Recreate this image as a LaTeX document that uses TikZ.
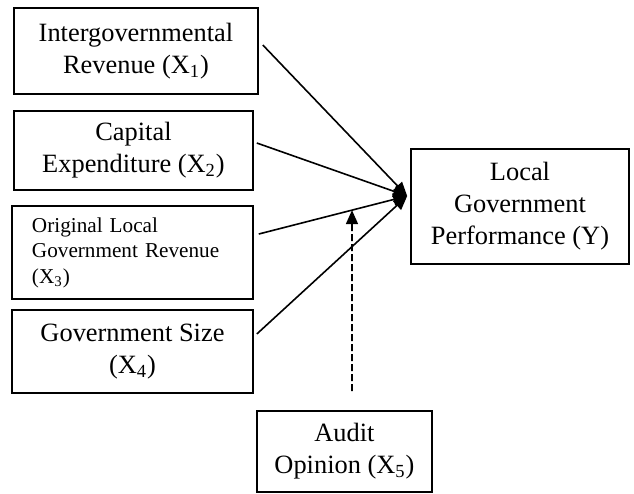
\documentclass[tikz,border=0pt]{standalone}
\usepackage{fontspec}
\setmainfont{Liberation Serif}
\usetikzlibrary{shapes.geometric, arrows.meta, calc}
\tikzstyle{arrow} = [line width=0.8pt,-{Triangle[length=7pt,width=6pt]}]
\tikzstyle{darrow} = [arrow, dash pattern=on 3.5pt off 1.5pt]
\tikzstyle{var} = [rectangle, draw=black, line width=0.8pt, align=center, inner sep=0pt, font=\fontsize{13.2}{16}\selectfont]
\tikzstyle{varsmall} = [var, align=left, inner xsep=10pt, text width=100.5pt, font=\fontsize{10.6}{12.8}\selectfont]

\begin{document}
\begin{tikzpicture}[x=0.5pt, y=-0.5pt]
		\useasboundingbox (0,0) rectangle (634,494);
		% independent variables
		\node (x1) [var, minimum width=122pt, minimum height=43pt] at (136,51) {Intergovernmental\\Revenue (X\textsubscript{1})};
		\node (x2) [var, minimum width=119.5pt, minimum height=39.5pt] at (133.5,150.5) {Capital\\Expenditure (X\textsubscript{2})};
		\node (x3) [varsmall, minimum height=46.5pt] at (132.5,252.5) {Original Local\\Government Revenue\\(X\textsubscript{3})};
		\node (x4) [var, minimum width=120.5pt, minimum height=41.5pt] at (132.5,351.5) {Government Size\\(X\textsubscript{4})};
		% dependent variable and moderator
		\node (y) [var, minimum width=109pt, minimum height=57.5pt] at (520,206.5) {Local\\Government\\Performance (Y)};
		\node (x5) [var, minimum width=87.5pt, minimum height=40.5pt] at (344.5,451.5) {Audit\\Opinion (X\textsubscript{5})};
		\coordinate (tip) at ($(y.west)+(-3,-10.5)$);
		\coordinate (s3) at ($(x3.east)+(5,-18.5)$);
		\coordinate (d5) at ($(x5.north)+(7.5,-19)$);
		\draw [arrow] ($(x1.east)+(4,-6)$) -- (tip);
		\draw [arrow] ($(x2.east)+(3,-7.5)$) -- (tip);
		\draw [arrow] (s3) -- (tip);
		\draw [arrow] ($(x4.east)+(3,-17.5)$) -- (tip);
		\draw [darrow] (d5) -- (intersection of s3--tip and d5--{$(d5)+(0,-100)$});
\end{tikzpicture}
\end{document}
